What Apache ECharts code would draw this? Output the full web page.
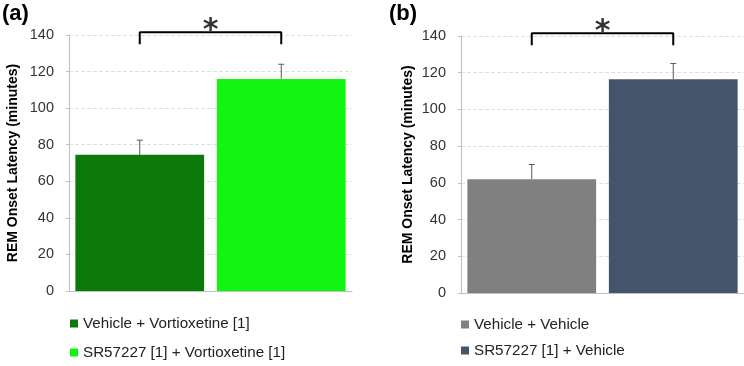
<!DOCTYPE html>
<html>
<head>
<meta charset="utf-8">
<script src="https://cdn.jsdelivr.net/npm/echarts@6/dist/echarts.min.js"></script>
<style>
  html, body { margin: 0; padding: 0; background: #fff; }
  #chart { width: 744px; height: 366px; }
</style>
</head>
<body>
<div id="chart"></div>
<script>
  // panel (a)
  const namesA = ['Vehicle + Vortioxetine [1]', 'SR57227 [1] + Vortioxetine [1]']
  const meansA = [74.5, 116]
  const errA = [8, 8]
  const colorsA = ['#0b7a0b', '#11f511']
  // panel (b)
  const namesB = ['Vehicle + Vehicle', 'SR57227 [1] + Vehicle']
  const meansB = [62, 116.5]
  const errB = [8, 8.5]
  const colorsB = ['#808080', '#44546a']
  // significance bracket (value units)
  const bracketLow = 135
  const bracketHigh = 141.5
  const starY = 142
  const yTicks = { min: 0, max: 140, interval: 20 }

  const font = 'Liberation Sans, Arial, sans-serif'
  const chart = echarts.init(document.getElementById('chart'))

  function errorRender(params, api) {
    var top = api.coord([api.value(0), api.value(2)])
    var base = api.coord([api.value(0), api.value(1)])
    var style = { stroke: '#595959', lineWidth: 1 }
    return {
      type: 'group',
      children: [
        { type: 'line', shape: { x1: top[0], y1: base[1], x2: top[0], y2: top[1] }, style: style },
        { type: 'line', shape: { x1: top[0] - 3, y1: top[1], x2: top[0] + 3, y2: top[1] }, style: style }
      ]
    }
  }

  function panelSeries(idx, names, means, errs, colors) {
    var list = []
    for (var i = 0; i < names.length; i++) {
      var d = means.map(function (v, j) { return j === i ? v : '-' })
      list.push({
        name: names[i],
        type: 'bar',
        xAxisIndex: idx * 2,
        yAxisIndex: idx,
        barWidth: '91%',
        barGap: '-100%',
        itemStyle: { color: colors[i] },
        data: d
      })
    }
    list.push({
      type: 'custom',
      xAxisIndex: idx * 2,
      yAxisIndex: idx,
      renderItem: errorRender,
      z: 5,
      data: means.map(function (v, j) { return [j, v, v + errs[j]] })
    })
    list.push({
      type: 'line',
      xAxisIndex: idx * 2 + 1,
      yAxisIndex: idx,
      symbol: 'none',
      clip: false,
      lineStyle: { color: '#000', width: 2 },
      data: [[0, bracketLow], [0, bracketHigh], [1, bracketHigh], [1, bracketLow]]
    })
    list.push({
      type: 'scatter',
      xAxisIndex: idx * 2 + 1,
      yAxisIndex: idx,
      symbolSize: 0,
      clip: false,
      label: {
        show: true, position: 'inside', formatter: '*',
        fontSize: 30, fontWeight: 'bold', color: '#000', fontFamily: 'DejaVu Sans, sans-serif'
      },
      data: [[0.5, starY]]
    })
    return list
  }

  function yAxis(idx, gap) {
    return {
      type: 'value',
      gridIndex: idx,
      min: yTicks.min,
      max: yTicks.max,
      interval: yTicks.interval,
      name: 'REM Onset Latency (minutes)',
      nameLocation: 'middle',
      nameGap: gap,
      nameTextStyle: { fontFamily: font, fontSize: 14, fontWeight: 'bold', color: '#000' },
      axisLine: { show: true, onZero: false, lineStyle: { color: '#bfbfbf' } },
      axisTick: { show: true, length: 3, lineStyle: { color: '#bfbfbf' } },
      splitLine: { lineStyle: { color: '#e0e0e0', type: 'dashed' } },
      axisLabel: { fontFamily: font, fontSize: 14.5, color: '#333', margin: 15 }
    }
  }

  function xAxes(idx, names) {
    return [{
      type: 'category',
      gridIndex: idx,
      data: names,
      axisLine: { onZero: false, lineStyle: { color: '#bfbfbf' } },
      axisTick: { show: false },
      axisLabel: { show: false }
    }, {
      type: 'value',
      gridIndex: idx,
      min: -0.5,
      max: 1.5,
      show: false,
      axisLine: { onZero: false }
    }]
  }

  // one legend box per item so they stack like the original
  function legendItem(name, left, top) {
    return {
      data: [name],
      left: left,
      top: top,
      padding: 0,
      itemWidth: 8,
      itemHeight: 8,
      itemGap: 3,
      icon: 'rect',
      selectedMode: false,
      textStyle: { fontFamily: font, fontSize: 15.2, color: '#222' }
    }
  }

  chart.setOption({
    animation: false,
    backgroundColor: '#fff',
    title: [
      { text: '(a)', left: 0, top: 1, padding: [2, 2], textStyle: { fontFamily: font, fontSize: 22, fontWeight: 'bold', color: '#000' } },
      { text: '(b)', left: 387, top: 1, padding: [2, 2], textStyle: { fontFamily: font, fontSize: 22, fontWeight: 'bold', color: '#000' } }
    ],
    legend: [
      legendItem(namesA[0], 70, 316),
      legendItem(namesA[1], 70, 345),
      legendItem(namesB[0], 461, 317),
      legendItem(namesB[1], 461, 343)
    ],
    grid: [
      { left: 69, top: 35, width: 283, height: 256 },
      { left: 461, top: 36, width: 283, height: 257 }
    ],
    xAxis: xAxes(0, namesA).concat(xAxes(1, namesB)),
    yAxis: [yAxis(0, 49), yAxis(1, 46)],
    series: panelSeries(0, namesA, meansA, errA, colorsA).concat(panelSeries(1, namesB, meansB, errB, colorsB))
  })
</script>
</body>
</html>
